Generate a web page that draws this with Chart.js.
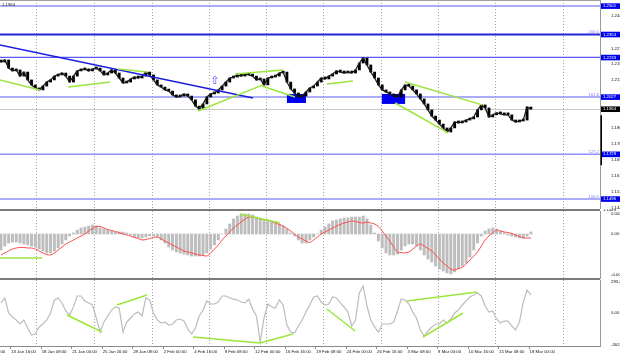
<!DOCTYPE html>
<html><head><meta charset="utf-8">
<script src="https://cdn.jsdelivr.net/npm/chart.js@4.4.0/dist/chart.umd.min.js"></script>
<style>
html,body{margin:0;padding:0;background:#fff;width:620px;height:357px;overflow:hidden}
.p{position:absolute;left:0;width:620px}
</style></head><body>
<div class="p" style="top:0;height:209px"><canvas id="c1"></canvas></div>
<div class="p" style="top:209px;height:71px"><canvas id="c2"></canvas></div>
<div class="p" style="top:280px;height:77px"><canvas id="c3"></canvas></div>
<script>
// ---- data (one sample per 2 H4 bars) ----
const closes = [1.2209,1.2220,1.2178,1.2163,1.2168,1.2136,1.2157,1.2116,1.2090,1.2074,
1.2064,1.2084,1.2105,1.2116,1.2136,1.2142,1.2152,1.2136,1.2105,1.2136,
1.2163,1.2168,1.2173,1.2163,1.2173,1.2178,1.2163,1.2142,1.2152,1.2168,
1.2152,1.2126,1.2100,1.2105,1.2121,1.2131,1.2126,1.2136,1.2157,1.2142,
1.2116,1.2090,1.2079,1.2064,1.2058,1.2038,1.2027,1.2032,1.2043,1.2032,
1.2012,1.1980,1.1965,1.1991,1.2027,1.2043,1.2048,1.2064,1.2084,1.2105,
1.2126,1.2131,1.2142,1.2136,1.2147,1.2142,1.2136,1.2116,1.2121,1.2090,
1.2126,1.2131,1.2136,1.2152,1.2157,1.2105,1.2069,1.2048,1.2027,1.2032,
1.2053,1.2074,1.2084,1.2105,1.2126,1.2121,1.2136,1.2147,1.2163,1.2157,
1.2152,1.2157,1.2152,1.2168,1.2204,1.2230,1.2194,1.2157,1.2126,1.2090,
1.2064,1.2053,1.2043,1.2032,1.2027,1.2064,1.2090,1.2084,1.2064,1.2043,
1.2017,1.1991,1.1960,1.1928,1.1907,1.1886,1.1866,1.1845,1.1866,1.1897,
1.1892,1.1897,1.1907,1.1913,1.1923,1.1960,1.1986,1.1970,1.1923,1.1934,
1.1944,1.1939,1.1934,1.1934,1.1907,1.1897,1.1902,1.1907,1.1975,1.1964];

const macdHist = [-0.00238,-0.00178,-0.00134,-0.00119,-0.00119,-0.00134,-0.00149,-0.00163,-0.00178,-0.00193,
-0.00223,-0.00252,-0.00282,-0.00282,-0.00252,-0.00208,-0.00149,-0.00089,-0.0003,0.00015,
0.00059,0.00089,0.00104,0.00119,0.00134,0.00119,0.00089,0.00074,0.00059,0.00045,
0.0003,0.0003,0.0003,0.00015,-0.00015,-0.00045,-0.00059,-0.00059,-0.00045,-0.0003,
-0.0003,-0.00045,-0.00089,-0.00134,-0.00193,-0.00238,-0.00267,-0.00282,-0.00297,-0.00312,
-0.00327,-0.00327,-0.00327,-0.00312,-0.00282,-0.00223,-0.00163,-0.00089,0,0.00074,
0.00149,0.00223,0.00267,0.00297,0.00297,0.00297,0.00282,0.00252,0.00223,0.00208,
0.00193,0.00178,0.00163,0.00149,0.00119,0.00074,0.00015,-0.0003,-0.00089,-0.00134,
-0.00134,-0.00089,-0.00045,0,0.00059,0.00104,0.00149,0.00193,0.00208,0.00223,
0.00238,0.00238,0.00252,0.00252,0.00252,0.00267,0.00223,0.00134,0.00015,-0.00104,
-0.00208,-0.00282,-0.00312,-0.00312,-0.00297,-0.00238,-0.00178,-0.00149,-0.00149,-0.00178,
-0.00238,-0.00312,-0.00371,-0.00416,-0.00475,-0.0052,-0.00549,-0.00579,-0.00594,-0.00564,
-0.0052,-0.00475,-0.00431,-0.00342,-0.00238,-0.00134,-0.0003,0.00045,0.00074,0.00089,
0.00074,0.00045,0.00015,-0.00015,-0.0003,-0.00045,-0.00059,-0.00059,-0.0003,0.0003];

const macdSignal = [-0.00312,-0.00282,-0.00252,-0.00223,-0.00208,-0.00200,-0.00200,-0.00208,-0.00208,-0.00223,
-0.00252,-0.00282,-0.00304,-0.00312,-0.00282,-0.00238,-0.00193,-0.00149,-0.00119,-0.00089,
-0.00059,-0.0003,0,0.00045,0.00082,0.00111,0.00111,0.00089,0.00067,0.00052,
0.00037,0.00022,0,-0.00015,-0.0003,-0.00052,-0.00067,-0.00089,-0.00082,-0.00067,
-0.00052,-0.00045,-0.00074,-0.00104,-0.00134,-0.00163,-0.00193,-0.00223,-0.00252,-0.00267,
-0.00282,-0.00297,-0.00312,-0.00319,-0.00327,-0.00282,-0.00223,-0.00163,-0.00089,-0.0003,
0.0003,0.00089,0.00134,0.00178,0.00223,0.00252,0.00252,0.00238,0.00223,0.00215,
0.00208,0.00186,0.00163,0.00141,0.00119,0.00082,0.00045,0,-0.00045,-0.00074,
-0.00104,-0.00126,-0.00089,-0.00045,0,0.0003,0.00059,0.00089,0.00119,0.00141,
0.00163,0.00178,0.00193,0.00186,0.00171,0.00163,0.00178,0.00163,0.00149,0.00111,
0.00045,-0.0003,-0.00104,-0.00193,-0.00267,-0.00275,-0.00282,-0.00267,-0.00223,-0.00178,
-0.00149,-0.00178,-0.00215,-0.00252,-0.00312,-0.00371,-0.00431,-0.00475,-0.0052,-0.00535,
-0.00512,-0.00497,-0.00446,-0.00386,-0.00327,-0.00267,-0.00178,-0.00089,-0.0003,0.00015,
0.00059,0.00045,0.0003,0.00022,0.00007,-0.00015,-0.00037,-0.00059,-0.00059,-0.00059];

const cci = [95,142,0,-38,-66,-104,-66,-142,-208,-199,
-132,-104,-66,0,123,142,95,19,-19,57,
161,161,114,95,76,-47,-180,-85,-28,28,
57,47,-180,-85,-47,-9,9,-28,142,123,
0,-66,-95,-85,-114,-104,-66,-57,-76,-151,
-199,-142,-28,28,114,85,85,104,161,161,
142,132,123,104,95,132,38,-28,-274,-47,
85,57,47,123,76,-114,-180,-189,-123,-66,
9,76,151,161,104,76,85,151,142,95,
57,9,-123,-66,189,255,66,-66,-132,-180,
-104,-104,-104,-85,19,132,123,85,9,-47,
-161,-218,-170,-132,-104,-104,-66,-95,-57,0,
28,76,114,151,170,189,161,66,9,19,
-57,-95,-76,-76,-123,-161,-85,104,218,170];

const priceTicks = [1.2449,1.2279,1.2199,1.2119,1.1864,1.1784,1.1699,1.1619,1.1534,1.1449];
const macdTicks = [0.00297,0,-0.006];
const macdTickLabels = ['0.00297','0.00','-0.006'];
const cciTicks = [293.209,0,-302.623];
const cciTickLabels = ['293.2090','0.00','-302.623'];

const levelPrices = [1.2501,1.2353,1.2233,1.2027,1.1729,1.1496];
const levelLabels = ['1.2501','1.2353','1.2233','1.2027','1.1729','1.1496'];
const fibPrices = [1.2353,1.2027,1.1729,1.1496];
const fibNames = ['200.0','161.8','127.2','100.0'];
const lastPrice = 1.1964;

const dateLabels = ['11 Jan 00:00','13 Jan 16:00','18 Jan 08:00','21 Jan 00:00','25 Jan 16:00','28 Jan 08:00','2 Feb 00:00','4 Feb 16:00','9 Feb 08:00','12 Feb 00:00','16 Feb 16:00','19 Feb 08:00','24 Feb 00:00','26 Feb 16:00','3 Mar 08:00','8 Mar 00:00','10 Mar 16:00','15 Mar 08:00','18 Mar 00:00'];
const dateIdx = [-5.6,2.4,10.4,18.4,26.4,34.4,42.4,50.4,58.4,66.4,74.4,82.4,90.4,98.4,106.4,114.4,122.4,130.4,138.4];
const gridIdx = [9.2,24.4,39.6,54.6,69.5,84.5,99.7,114.6,129.6,147.4];

// trend segments [idx1, value1, idx2, value2]
const greenMain = [[-0.3,1.2116,10.2,1.2064],[17.6,1.2079,28.6,1.2105],[30.7,1.2173,38.3,1.2157],
 [51.7,1.1954,68.7,1.2090],[61.4,1.2147,74.0,1.2168],[68.5,1.2084,77.1,1.2027],
 [85.5,1.2095,92.3,1.2110],[103.4,1.1996,117.3,1.1840],[106.0,1.2105,126.2,1.1986]];
const blueTrend = [[-0.3,1.2298,66.1,1.2022]];
const zones = [[75.0,1.2043,80.0,1.1996],[99.9,1.2043,106.0,1.1991]];
const arrowPt = [56.1,1.2108];
const greenMacd = [[-0.3,-0.00356,10.8,-0.00356],[62.7,0.00297,73.2,0.00163]];
const greenCci = [[17.3,-19,26.5,-180],[30.4,76,38.3,170],[50.4,-227,67.9,-284],[67.9,-284,76.6,-199],
 [85.5,38,92.9,-170],[106.5,114,124.9,199],[110.7,-227,121.2,0]];

// ---- helpers ----
const FONT = '"Liberation Sans", Arial, sans-serif';
const FS = 4.3;
const xMin = -0.262, xMax = 157.13;
const GREEN = '#9be63c';
function xOpt(){ return {type:'linear', min:xMin, max:xMax, offset:false, display:false, grid:{display:false}}; }
function yOpt(min,max,ticks,labels){
  return {position:'right', min, max, grid:{display:false}, border:{display:true,color:'#9a9a9a',width:1},
    afterFit:s=>{s.width=20;s.paddingTop=0;s.paddingBottom=0;},
    afterBuildTicks:s=>{s.ticks=ticks.map(v=>({value:v}));},
    ticks:{autoSkip:false,padding:3,color:'#111',font:{family:FONT,size:FS},
      callback:(v,i)=>labels[i]}};
}
function segs(list,color,width,order){
  return list.map(s=>({type:'line',data:[{x:s[0],y:s[1]},{x:s[2],y:s[3]}],borderColor:color,borderWidth:width,pointRadius:0,order}));
}
function vgrid(chart){
  const {ctx,chartArea:a,scales:{x}}=chart;
  ctx.save(); ctx.strokeStyle='#a6a6a6'; ctx.lineWidth=1; ctx.setLineDash([1,2]);
  gridIdx.forEach(k=>{const px=Math.round(x.getPixelForValue(k))+0.5;ctx.beginPath();ctx.moveTo(px,a.top);ctx.lineTo(px,a.bottom);ctx.stroke();});
  ctx.restore();
}
function hline(ctx,a,y,color,w){ctx.save();ctx.strokeStyle=color;ctx.lineWidth=w;ctx.beginPath();ctx.moveTo(a.left,y);ctx.lineTo(a.right,y);ctx.stroke();ctx.restore();}
const base = {responsive:true,maintainAspectRatio:false,animation:false,events:[],devicePixelRatio:1,
  plugins:{legend:{display:false},tooltip:{enabled:false}}};

// ---- main price chart ----
const candleData = closes.map((c,i)=>({x:i,y:[i?closes[i-1]:c,c]}));
const levelStyle = [['#5a5af0',1.2],['#2424d8',2],['#5a5af0',1.2],['#9090ff',1.6],['#9090ff',1.6],['#9090ff',1.6]];
new Chart(document.getElementById('c1'),{
  type:'bar',
  data:{datasets:[
    {type:'bar',data:candleData,backgroundColor:'#000',barThickness:2.2,minBarLength:2,grouped:false,order:5},
    {type:'line',data:closes.map((c,i)=>({x:i,y:c})),borderColor:'#1a1a1a',borderWidth:1.3,pointRadius:0,order:4},
    ...segs(blueTrend,'#1c1ce0',1.6,2),
    ...segs(greenMain,GREEN,1.5,1)
  ]},
  options:{...base,layout:{padding:0},
    scales:{x:xOpt(),y:yOpt(1.14438,1.25323,priceTicks,priceTicks.map(v=>v.toFixed(4)))}},
  plugins:[{id:'main',
    beforeDatasetsDraw(chart){
      const {ctx,chartArea:a,scales:{x,y}}=chart;
      vgrid(chart);
      hline(ctx,a,0.5,'#a0a0a0',1);
      hline(ctx,a,Math.round(y.getPixelForValue(lastPrice))+0.5,'#c8c8c8',1);
      levelPrices.forEach((p,i)=>hline(ctx,a,y.getPixelForValue(p),levelStyle[i][0],levelStyle[i][1]));
      ctx.save(); ctx.fillStyle='#0000f0';
      zones.forEach(z=>{const x1=x.getPixelForValue(z[0]),x2=x.getPixelForValue(z[2]),y1=y.getPixelForValue(z[1]),y2=y.getPixelForValue(z[3]);ctx.fillRect(x1,y1,x2-x1,y2-y1);});
      ctx.restore();
      ctx.save(); ctx.font=FS+'px '+FONT; ctx.fillStyle='#8080ff'; ctx.textAlign='right'; ctx.textBaseline='bottom';
      fibPrices.forEach((p,i)=>ctx.fillText(fibNames[i],a.right-1,y.getPixelForValue(p)-0.5));
      ctx.restore();
    },
    afterDatasetsDraw(chart){
      const {ctx,scales:{x,y}}=chart;
      ctx.save(); ctx.font='11px "DejaVu Sans"'; ctx.fillStyle='#4a4aff'; ctx.textAlign='center'; ctx.textBaseline='middle';
      ctx.fillText('\u21E7',x.getPixelForValue(arrowPt[0]),y.getPixelForValue(arrowPt[1]));
      ctx.restore();
    },
    afterDraw(chart){
      const {ctx,chartArea:a,scales:{y}}=chart;
      ctx.save(); ctx.font=FS+'px '+FONT; ctx.textBaseline='middle'; ctx.textAlign='left';
      levelPrices.forEach((p,i)=>{const py=y.getPixelForValue(p);ctx.fillStyle='#0000f0';ctx.fillRect(a.right+1,py-2.7,19,5.6);ctx.fillStyle='#fff';ctx.fillText(levelLabels[i],a.right+3,py);});
      const lp=y.getPixelForValue(lastPrice);
      ctx.fillStyle='#000';ctx.fillRect(a.right+1,lp-2.7,19,5.6);ctx.fillStyle='#fff';ctx.fillText(lastPrice.toFixed(4),a.right+3,lp);
      ctx.fillStyle='#000';ctx.fillRect(a.right+0.5,y.getPixelForValue(1.1932),1.5,y.getPixelForValue(1.1672)-y.getPixelForValue(1.1932));
      ctx.fillStyle='#222';ctx.fillText(lastPrice.toFixed(4),2,5);
      ctx.restore();
    }}]
});

// ---- MACD ----
new Chart(document.getElementById('c2'),{
  type:'bar',
  data:{datasets:[
    {type:'bar',data:macdHist.map((v,i)=>({x:i,y:v})),backgroundColor:'#bdbdbd',barThickness:2.3,grouped:false,order:5},
    {type:'line',data:macdSignal.map((v,i)=>({x:i,y:v})),borderColor:'#ff4a4a',borderWidth:1,pointRadius:0,tension:0.3,order:3},
    ...segs(greenMacd,GREEN,1.5,1)
  ]},
  options:{...base,layout:{padding:{top:2,bottom:2}},
    scales:{x:xOpt(),y:yOpt(-0.006534,0.003416,macdTicks,macdTickLabels)}},
  plugins:[{id:'macd',
    beforeDatasetsDraw(chart){vgrid(chart);},
    afterDraw(chart){const {ctx,chartArea:a}=chart;
      ctx.save();ctx.fillStyle='#7a7a7a';ctx.fillRect(0,0,a.right,2);ctx.fillRect(0,a.bottom,a.right,2);
      ctx.fillStyle='#111';ctx.font=FS+'px '+FONT;ctx.textBaseline='middle';ctx.fillText('1.1449',a.right+3,0.5);ctx.restore();}
  }]
});

// ---- CCI ----
new Chart(document.getElementById('c3'),{
  type:'line',
  data:{datasets:[
    {type:'line',data:cci.map((v,i)=>({x:i,y:v})),borderColor:'#bcbcbc',borderWidth:1.2,pointRadius:0,tension:0,order:3},
    ...segs(greenCci,GREEN,1.5,1)
  ]},
  options:{...base,layout:{padding:{top:0,bottom:11}},
    scales:{x:xOpt(),y:yOpt(-312.2,312.2,cciTicks,cciTickLabels)}},
  plugins:[{id:'cci',
    beforeDatasetsDraw(chart){vgrid(chart);},
    afterDraw(chart){const {ctx,chartArea:a,scales:{x}}=chart;
      ctx.save();ctx.strokeStyle='#8a8a8a';ctx.lineWidth=1;ctx.beginPath();ctx.moveTo(0,a.bottom+0.5);ctx.lineTo(a.right,a.bottom+0.5);ctx.stroke();
      ctx.font=FS+'px '+FONT;ctx.fillStyle='#111';ctx.textBaseline='middle';ctx.textAlign='left';
      dateLabels.forEach((t,i)=>{const px=x.getPixelForValue(dateIdx[i]);
        ctx.beginPath();ctx.moveTo(Math.round(px)+0.5,a.bottom);ctx.lineTo(Math.round(px)+0.5,a.bottom+3);ctx.stroke();
        ctx.fillText(t,px+1,a.bottom+5.5);});
      ctx.restore();}
  }]
});
</script>
</body></html>
